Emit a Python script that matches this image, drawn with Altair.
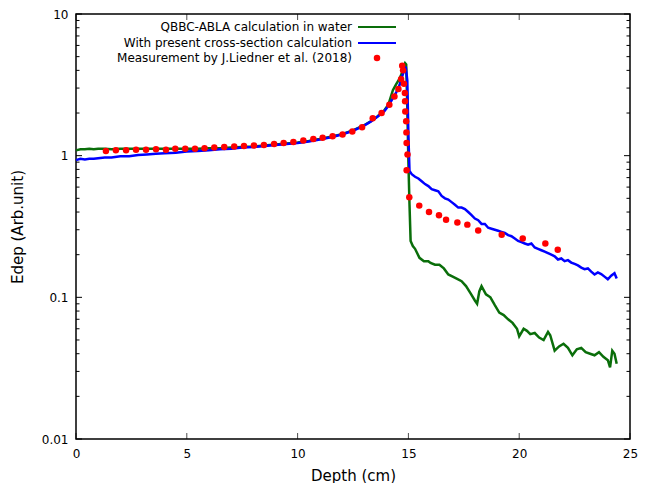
import altair as alt
import pandas as pd

# ---- data ----
green_x = [0.0, 0.2, 0.4, 0.6, 0.8, 1.0, 1.3, 1.6, 2.0, 2.4, 2.8, 3.2, 3.6, 4.0, 4.5, 5.0, 5.5, 6.0,
           6.5, 7.0, 7.5, 8.0, 8.5, 9.0, 9.5, 10.0, 10.5, 11.0, 11.5, 12.0, 12.5, 13.0, 13.3, 13.6,
           13.9, 14.1, 14.3, 14.45, 14.6, 14.7, 14.8, 14.85, 14.9, 14.95, 15.0, 15.05, 15.1, 15.2,
           15.3, 15.5, 15.7, 15.9, 16.0, 16.2, 16.4, 16.6, 16.8, 17.0, 17.2, 17.4, 17.6, 17.8, 18.0,
           18.1, 18.2, 18.3, 18.5, 18.7, 18.9, 19.1, 19.3, 19.5, 19.7, 19.9, 20.0, 20.2, 20.35, 20.5,
           20.7, 20.9, 21.1, 21.3, 21.4, 21.6, 21.8, 22.0, 22.2, 22.4, 22.6, 22.8, 23.0, 23.2, 23.4,
           23.6, 23.8, 24.0, 24.1, 24.2, 24.3, 24.4]
green_y = [1.09, 1.11, 1.11, 1.12, 1.11, 1.12, 1.12, 1.11, 1.12, 1.12, 1.12, 1.12, 1.12, 1.12, 1.12,
           1.12, 1.12, 1.13, 1.13, 1.14, 1.15, 1.16, 1.18, 1.20, 1.22, 1.24, 1.27, 1.31, 1.36, 1.42,
           1.51, 1.64, 1.75, 1.89, 2.08, 2.30, 2.90, 3.20, 3.50, 3.80, 4.30, 4.50, 4.40, 2.20, 0.90,
           0.45, 0.25, 0.23, 0.22, 0.19, 0.18, 0.18, 0.175, 0.17, 0.17, 0.16, 0.145, 0.14, 0.135,
           0.13, 0.12, 0.107, 0.095, 0.09, 0.11, 0.12, 0.105, 0.10, 0.088, 0.078, 0.075, 0.07, 0.066,
           0.06, 0.053, 0.06, 0.058, 0.055, 0.056, 0.052, 0.05, 0.057, 0.054, 0.042, 0.045, 0.047,
           0.044, 0.039, 0.043, 0.044, 0.041, 0.04, 0.039, 0.041, 0.038, 0.036, 0.032, 0.042, 0.04,
           0.034]

blue_x = [0.0, 0.2, 0.4, 0.6, 0.8, 1.0, 1.3, 1.6, 2.0, 2.4, 2.8, 3.2, 3.6, 4.0, 4.5, 5.0, 5.5, 6.0,
          6.5, 7.0, 7.5, 8.0, 8.5, 9.0, 9.5, 10.0, 10.5, 11.0, 11.5, 12.0, 12.5, 13.0, 13.3, 13.6,
          13.9, 14.1, 14.3, 14.45, 14.6, 14.7, 14.8, 14.88, 14.95, 15.0, 15.05, 15.15, 15.3, 15.45,
          15.6, 15.75, 15.9, 16.05, 16.2, 16.35, 16.5, 16.65, 16.8, 16.95, 17.1, 17.25, 17.4, 17.55,
          17.7, 17.85, 18.0, 18.15, 18.3, 18.45, 18.6, 18.75, 18.9, 19.05, 19.2, 19.35, 19.5, 19.65,
          19.8, 19.95, 20.1, 20.25, 20.4, 20.55, 20.7, 20.85, 21.0, 21.15, 21.3, 21.45, 21.6, 21.75,
          21.9, 22.05, 22.2, 22.35, 22.5, 22.65, 22.8, 22.95, 23.1, 23.25, 23.4, 23.55, 23.7, 23.85,
          24.0, 24.15, 24.3, 24.4]
blue_y = [0.93, 0.95, 0.94, 0.95, 0.95, 0.96, 0.97, 0.97, 0.99, 0.99, 1.01, 1.02, 1.03, 1.04, 1.05,
          1.07, 1.08, 1.09, 1.11, 1.12, 1.14, 1.15, 1.17, 1.19, 1.21, 1.23, 1.26, 1.30, 1.35, 1.41,
          1.50, 1.63, 1.74, 1.88, 2.05, 2.25, 2.55, 2.80, 3.15, 3.55, 3.95, 4.25, 3.40, 1.40, 0.78,
          0.74, 0.71, 0.69, 0.66, 0.63, 0.61, 0.58, 0.57, 0.56, 0.52, 0.50, 0.49, 0.47, 0.45, 0.43,
          0.43, 0.42, 0.40, 0.38, 0.36, 0.35, 0.33, 0.33, 0.31, 0.305, 0.30, 0.295, 0.29, 0.285,
          0.275, 0.27, 0.26, 0.25, 0.245, 0.24, 0.235, 0.24, 0.225, 0.22, 0.215, 0.21, 0.205, 0.20,
          0.195, 0.185, 0.188, 0.18, 0.183, 0.176, 0.172, 0.168, 0.162, 0.158, 0.16, 0.152, 0.145,
          0.15, 0.146, 0.14, 0.134, 0.142, 0.148, 0.136]

red_x = [1.35, 1.80, 2.26, 2.71, 3.16, 3.61, 4.06, 4.48, 4.93, 5.37, 5.80, 6.24, 6.69, 7.14, 7.58,
         8.03, 8.48, 8.94, 9.37, 9.81, 10.26, 10.71, 11.13, 11.58, 12.03, 12.47, 12.91, 13.39,
         13.79, 14.14, 14.37, 14.55, 14.67, 14.72, 14.76, 14.80, 14.84, 14.85, 14.86, 14.90, 14.91,
         14.92, 14.96, 14.92, 15.04, 15.49, 15.93, 16.38, 16.70, 17.21, 17.66, 18.15, 19.21, 20.16,
         21.18, 21.74]
red_y = [1.08, 1.09, 1.09, 1.10, 1.10, 1.11, 1.10, 1.12, 1.12, 1.12, 1.13, 1.14, 1.15, 1.16, 1.17,
         1.18, 1.19, 1.21, 1.23, 1.25, 1.28, 1.31, 1.34, 1.37, 1.41, 1.48, 1.59, 1.84, 2.0, 2.29,
         2.62, 2.96, 3.47, 4.31, 4.0, 3.22, 2.77, 2.42, 2.05, 1.75, 1.46, 1.23, 1.02, 0.79, 0.508,
         0.444, 0.40, 0.38, 0.353, 0.338, 0.326, 0.296, 0.277, 0.26, 0.24, 0.217]

legend_labels = ["QBBC-ABLA calculation in water",
                 "With present cross-section calculation",
                 "Measurement by J.Liedner et al. (2018)"]

x_ticks = [0, 5, 10, 15, 20, 25]
y_ticks = [0.01, 0.1, 1, 10]
y_minor = [0.02, 0.03, 0.04, 0.05, 0.06, 0.07, 0.08, 0.09,
           0.2, 0.3, 0.4, 0.5, 0.6, 0.7, 0.8, 0.9,
           2, 3, 4, 5, 6, 7, 8, 9]

W, H = 554, 425
GREEN, BLUE, RED = "#0a6e0a", "#0000ff", "#ff0000"
FONT = "DejaVu Sans"

green_df = pd.DataFrame({"x": green_x, "y": green_y})
blue_df = pd.DataFrame({"x": blue_x, "y": blue_y})
red_df = pd.DataFrame({"x": red_x, "y": red_y})
xt_df = pd.DataFrame({"x": [float(v) for v in x_ticks]})
yt_df = pd.DataFrame({"y": y_ticks})
ym_df = pd.DataFrame({"y": y_minor})

xs = alt.Scale(domain=[0, 25], nice=False, zero=False)
ys = alt.Scale(type="log", domain=[0.01, 10], nice=False)

x_axis = alt.Axis(values=x_ticks, title="Depth (cm)", labelFlush=False, labelPadding=9,
                  titlePadding=9)
y_axis = alt.Axis(values=y_ticks, title="Edep (Arb.unit)", format="~g", labelPadding=8,
                  titlePadding=16)

X = alt.X("x:Q", scale=xs, axis=x_axis)
Y = alt.Y("y:Q", scale=ys, axis=y_axis)

green = alt.Chart(green_df).mark_line(color=GREEN, strokeWidth=2.5).encode(x=X, y=Y)
blue = alt.Chart(blue_df).mark_line(color=BLUE, strokeWidth=2.5).encode(x=X, y=Y)
red = alt.Chart(red_df).mark_circle(color=RED, size=42, opacity=1).encode(x=X, y=Y)

# inward ticks (gnuplot style) on all four sides
xb = alt.Chart(xt_df).mark_tick(orient="vertical", color="black", size=6, thickness=1).encode(
    x=X, y=alt.value(H - 3))
xtp = alt.Chart(xt_df).mark_tick(orient="vertical", color="black", size=6, thickness=1).encode(
    x=X, y=alt.value(3))
tk = dict(color="black", strokeWidth=1)
yl = alt.Chart(yt_df).mark_rule(**tk).encode(y=Y, x=alt.value(0), x2=alt.value(6))
yr = alt.Chart(yt_df).mark_rule(**tk).encode(y=Y, x=alt.value(W), x2=alt.value(W - 6))
yml = alt.Chart(ym_df).mark_rule(**tk).encode(y=Y, x=alt.value(0), x2=alt.value(3.5))
ymr = alt.Chart(ym_df).mark_rule(**tk).encode(y=Y, x=alt.value(W), x2=alt.value(W - 3.5))

# key (gnuplot style: text then sample)
def key_text(i, ypix):
    return alt.Chart(pd.DataFrame({"t": [legend_labels[i]]})).mark_text(
        align="right", baseline="middle", font=FONT, fontSize=12, color="black"
    ).encode(text="t:N", x=alt.value(276), y=alt.value(ypix))

k1 = key_text(0, 13)
k2 = key_text(1, 29)
k3 = key_text(2, 44)
kl1 = alt.Chart(pd.DataFrame({"a": [0]})).mark_rule(color=GREEN, strokeWidth=2).encode(
    x=alt.value(282), x2=alt.value(320), y=alt.value(13))
kl2 = alt.Chart(pd.DataFrame({"a": [0]})).mark_rule(color=BLUE, strokeWidth=2).encode(
    x=alt.value(282), x2=alt.value(320), y=alt.value(29))
kp3 = alt.Chart(pd.DataFrame({"a": [0]})).mark_circle(color=RED, size=42, opacity=1).encode(
    x=alt.value(301), y=alt.value(44))

chart = alt.layer(
    green, blue, red, xb, xtp, yl, yr, yml, ymr, k1, k2, k3, kl1, kl2, kp3
).properties(
    width=W, height=H,
    autosize=alt.AutoSizeParams(type="none"),
    padding={"left": 68, "top": 6, "right": 12, "bottom": 44},
    background="white",
).configure_view(
    stroke="black", strokeWidth=1.5
).configure_axis(
    grid=False, domain=False, ticks=False, tickSize=0,
    labelFont=FONT, labelFontSize=12, labelColor="black",
    titleFont=FONT, titleFontSize=15, titleFontWeight="normal", titleColor="black",
)

chart.save("out.html", embed_options={"renderer": "svg", "actions": False})
